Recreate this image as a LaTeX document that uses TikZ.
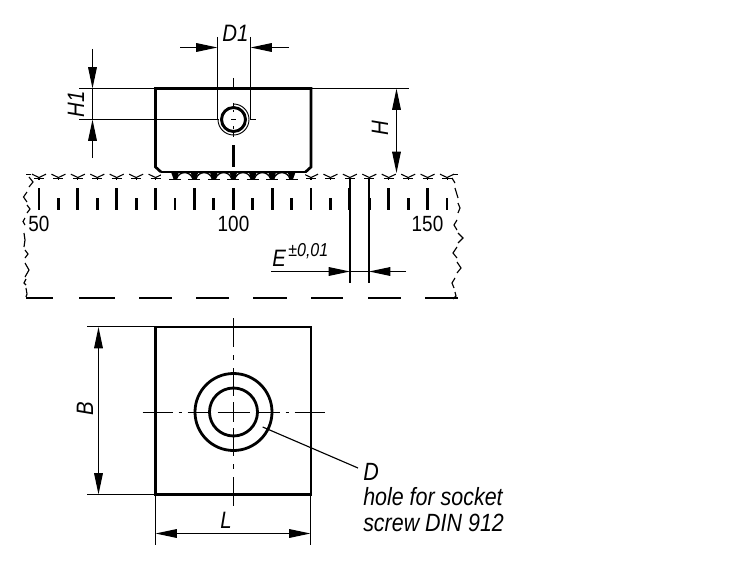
\documentclass[tikz,border=0pt]{standalone}
\usepackage{fontspec}
\setmainfont{Liberation Sans}[FakeStretch=0.86]
\usetikzlibrary{arrows.meta}
\tikzset{
  thickline/.style={line width=2pt,line join=miter},
  thinline/.style={line width=0.85pt},
  midline/.style={line width=1.2pt},
  wave/.style={line width=0.85pt},
  tickmark/.style={line width=2.1pt},
  dimtip/.style={-{Triangle[length=16pt,width=6.5pt]}},
  dimboth/.style={{Triangle[length=16pt,width=6.5pt]}-{Triangle[length=16pt,width=6.5pt]}},
  lab/.style={inner sep=0pt,font=\fontsize{17.8}{20}\selectfont\itshape},
  notelab/.style={inner sep=0pt,font=\fontsize{18.7}{20}\selectfont\itshape},
  numlab/.style={inner sep=0pt,font=\fontsize{16.5}{20}\selectfont},
  tollab/.style={inner sep=0pt,font=\fontsize{14}{16}\selectfont\itshape},
}
\begin{document}
\begin{tikzpicture}[x=0.75pt,y=-0.75pt]
\useasboundingbox[fill=white] (0,0) rectangle (750,567);

% ---- side view block
\draw[thickline] (161,172)--(155.5,167)--(155.5,88.5)--(311,88.5)--(311,167)--(305.5,172);
\draw[midline] (161,172)--(305.5,172);

% ---- rail top: repeated Y marks
\foreach \k in {0,...,21}{
  \pgfmathsetmacro\xk{39+19.43*\k}
  \draw[line width=0.8pt] (\xk-7,174.2)--(\xk,177.5)--(\xk+7,174.2);
  \draw[line width=0.8pt] (\xk-5,178.5)--(\xk+5,178.5);
  \draw[line width=0.8pt] (\xk,177)--(\xk,180);
}
\draw[line width=0.8pt] (26,174.5)--(31,174.5) (453,174.5)--(458,174.5);
\fill[white] (161,173.2) rectangle (305,178) (168,178) rectangle (298,181);
\foreach \k in {7,...,13}{
  \pgfmathsetmacro\xk{39+19.43*\k}
  \fill (\xk-4,172)--(\xk+4,172)--(\xk+1.5,179)--(\xk-1.5,179)--cycle;
  \draw[line width=1.3pt] (\xk-6,179.5)--(\xk+6,179.5);
}
\foreach \k in {7,...,12}{
  \pgfmathsetmacro\xk{39+19.43*\k}
  \draw[line width=1pt] (\xk+1.5,179) .. controls (\xk+4,170.5) and (\xk+15.4,170.5) .. (\xk+17.9,179);
}

% ---- scale ticks
\foreach \k in {0,...,10}{
  \pgfmathsetmacro\xk{39+38.86*\k}
  \draw[tickmark] (\xk,188)--(\xk,209.5);
  \draw[tickmark] (\xk+19.43,198)--(\xk+19.43,209.5);
}
\node[numlab,anchor=base] (n50) at (39,231) {50};
\node[numlab,anchor=base] (n100) at (233.5,231) {100};
\node[numlab,anchor=base] (n150) at (427.5,231) {150};

% ---- break lines
\draw[wave] (29,177)--(33,182)--(29,187)
            (27,192)--(23.5,197)--(27,202)
            (27,205)--(30,209)--(27,213)
            (25,218)--(23,221.5)--(25,225)
            (24,233)--(25,240)--(24,247)
            (25,250)--(28,254)--(25,258)
            (25,263)--(29,270)--(25,277)
            (26,279)--(24,283)--(26,285)
            (26,288)--(27,294)--(26,297);
\draw[wave] (452,178)--(455,183)
            (455,188)--(458,198)
            (458,203)--(460,208)--(458,213)
            (457,220)--(454,225)--(457,230)
            (458,233)--(463,238)--(458,243)
            (457,247)--(453,253)--(457,258)
            (457,262)--(461,268)--(457,273)
            (455,278)--(452,283)--(454,288)
            (455,292)--(456,296)--(453,299);
\foreach \a/\b in {26/53,79/115,139/172,196/229,253/287,311/343,368/401,425/458}
  \draw[line width=1.2pt] (\a,298)--(\b,298);

% ---- hole in side view
\draw[line width=2.2pt] (233.5,119.5) circle[radius=12];
\draw[line width=0.7pt] (233.5,119.5) ++(0,-15.5) arc[start angle=-90,end angle=180,radius=15.5];
\draw[thinline] (233.5,78)--(233.5,88) (233.5,103)--(233.5,108);
\draw[line width=0.9pt] (231,119.5)--(236,119.5) (233.5,110)--(233.5,112.5) (233.5,126.5)--(233.5,129) (233.5,132)--(233.5,137);
\draw[line width=1.6pt] (233.5,145)--(233.5,167);

% ---- dimension D1
\draw[thinline] (217.5,37)--(217.5,120) (250.5,37)--(250.5,120);
\draw[thinline] (250,119.5)--(256,119.5);
\draw[thinline,dimtip] (180,47.5)--(217.5,47.5);
\draw[thinline,dimtip] (289,47.5)--(250.5,47.5);
\node[lab,anchor=base] (d1) at (235.5,42) {D1};

% ---- dimension H1
\draw[thinline] (79,88.5)--(155,88.5) (79,119.5)--(219,119.5);
\draw[thinline,dimtip] (92.5,49)--(92.5,88.5);
\draw[thinline,dimtip] (92.5,158)--(92.5,119.5);
\draw[thinline] (92.5,88.5)--(92.5,119.5);
\node[lab,rotate=90,anchor=base] (h1) at (84,104) {H1};

% ---- dimension H
\draw[thinline] (311,88.5)--(409,88.5);
\draw[thinline,dimboth] (396.5,88.5)--(396.5,173);
\node[lab,rotate=90,anchor=base] (hh) at (388,128) {H};

% ---- dimension E
\draw[midline] (350,178)--(350,283) (369,178)--(369,283);
\draw[thinline,dimtip] (271,271.5)--(350,271.5);
\draw[thinline,dimtip] (406,271.5)--(369,271.5);
\draw[thinline] (350,271.5)--(369,271.5);
\node[lab,anchor=base west] (e) at (272,266) {E};
\node[tollab,anchor=base west] (tol) at (288,256) {±0,01};

% ---- plan view
\draw[thickline] (155.5,327) rectangle (311,494.5);
\draw[line width=2.1pt] (233.5,412) circle[radius=38.5];
\draw[line width=2.1pt] (233.5,412) circle[radius=24];
\foreach \a/\b in {-91/-61,-55/-52,-46/-24,-16/16,24/46,52/55,61/91}
  \draw[line width=1pt] (233.5+\a,412.5)--(233.5+\b,412.5);
\foreach \a/\b in {-94/-65,-57/-52,-44/-16,-10/10,16/44,52/57,65/94}
  \draw[line width=1pt] (233.5,412+\a)--(233.5,412+\b);

% ---- dimension B
\draw[thinline] (87,326.5)--(156,326.5) (87,494.5)--(156,494.5);
\draw[thinline,dimboth] (98.5,327)--(98.5,494.5);
\node[lab,rotate=90,anchor=base] (b) at (93,409) {B};

% ---- dimension L
\draw[thinline] (155.5,494)--(155.5,545) (310.5,494)--(310.5,545);
\draw[thinline,dimboth] (155.5,533.5)--(310.5,533.5);
\node[lab,anchor=base] (l) at (226,528) {L};

% ---- leader and note
\coordinate (leadstart) at (262.7,427);
\coordinate (leadend) at (358,468);
\draw[thinline] (leadstart)--(leadend);
\node[notelab,anchor=base west] (notea) at (363,480) {D};
\node[notelab,anchor=base west] (noteb) at (363,505) {hole for socket};
\node[notelab,anchor=base west] (notec) at (363,531) {screw DIN 912};
\end{tikzpicture}
\end{document}
